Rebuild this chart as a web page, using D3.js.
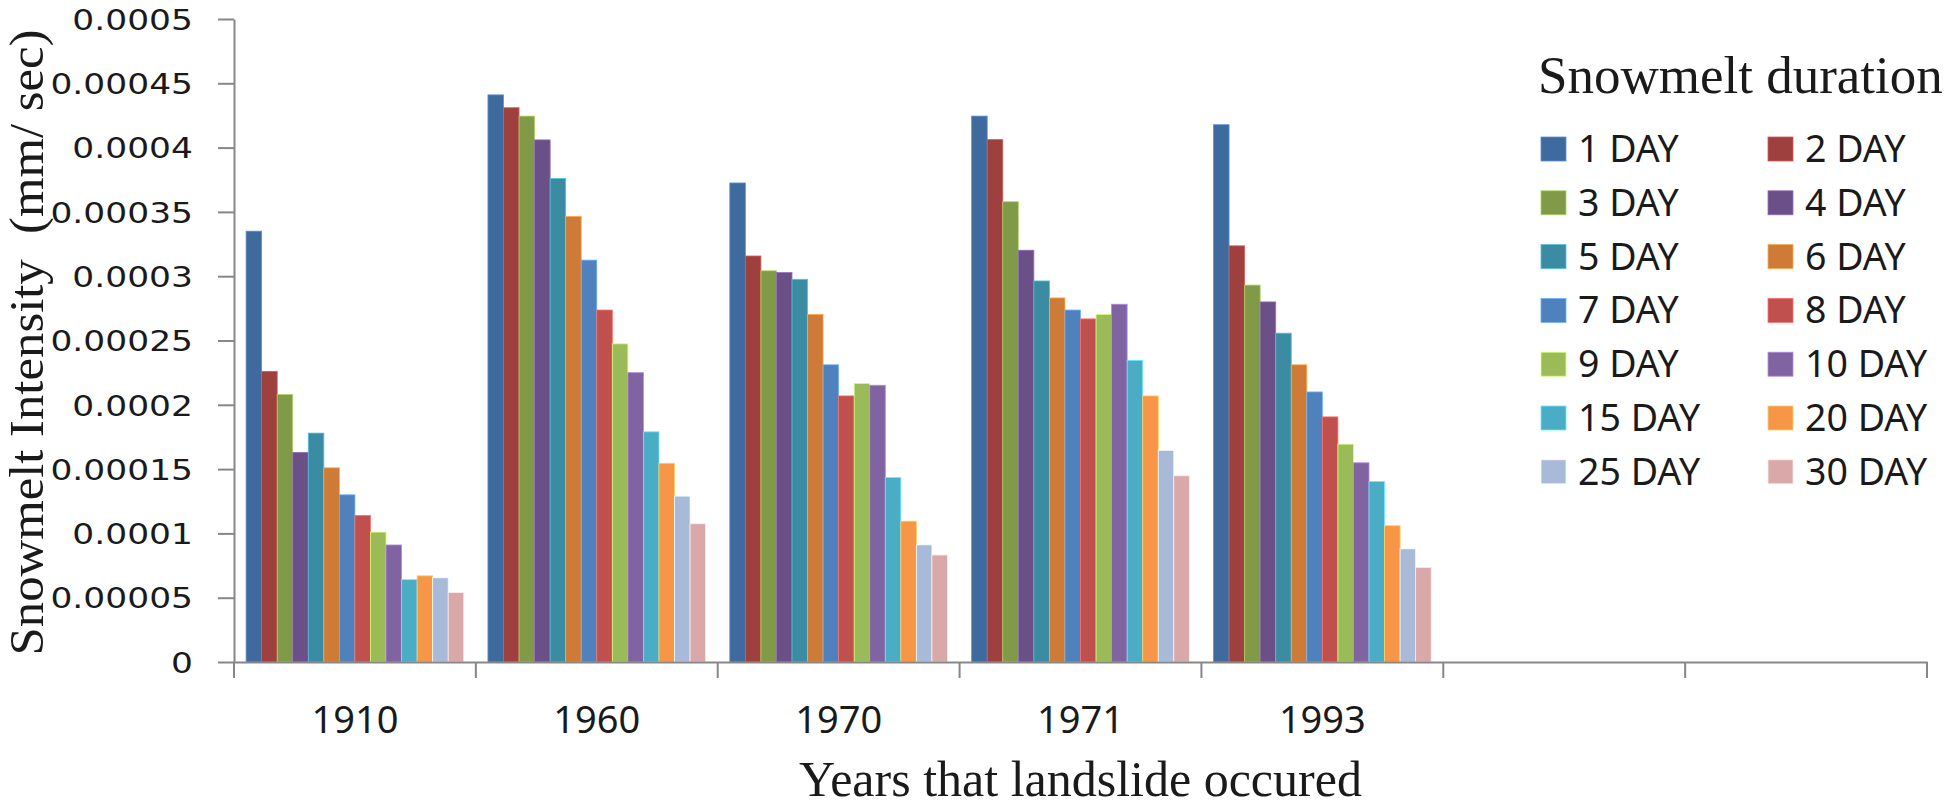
<!DOCTYPE html>
<html>
<head>
<meta charset="utf-8">
<script src="https://cdn.jsdelivr.net/npm/d3@7"></script>
<style>
  html, body { margin: 0; padding: 0; background: #fff; }
  svg { display: block; }
</style>
</head>
<body>
<svg id="chart" width="1946" height="808"></svg>
<script>
// ---------- data ----------
const categoryIds = ["1910", "1960", "1970", "1971", "1993", "empty1", "empty2"];
const categoryLabels = ["1910", "1960", "1970", "1971", "1993", "", ""];
const seriesNames = ["1 DAY", "2 DAY", "3 DAY", "4 DAY", "5 DAY", "6 DAY", "7 DAY",
                     "8 DAY", "9 DAY", "10 DAY", "15 DAY", "20 DAY", "25 DAY", "30 DAY"];
const seriesColors = ["#3F6A9D", "#9E403E", "#809A48", "#6A5086", "#3B8CA2", "#CD7B37", "#4F81BD",
                      "#C0504D", "#9BBB59", "#8064A2", "#4BACC6", "#F79646", "#A9BAD8", "#D9A9A9"];
const values1910 = [0.000335, 0.000226, 0.000208, 0.000163, 0.000178, 0.000151, 0.00013,
                    0.000114, 0.000101, 0.000091, 0.000064, 0.000067, 0.0000655, 0.000054];
const values1960 = [0.000441, 0.000431, 0.0004245, 0.000406, 0.000376, 0.0003465, 0.0003125,
                    0.0002737, 0.0002474, 0.000225, 0.000179, 0.0001545, 0.000129, 0.0001075];
const values1970 = [0.0003725, 0.0003157, 0.0003042, 0.0003028, 0.0002976, 0.0002703, 0.0002311,
                    0.0002069, 0.0002166, 0.0002152, 0.0001435, 0.0001095, 0.0000911, 0.0000832];
const values1971 = [0.0004245, 0.0004062, 0.0003579, 0.0003202, 0.0002963, 0.0002831, 0.0002737,
                    0.0002668, 0.0002703, 0.0002782, 0.0002346, 0.0002069, 0.0001646, 0.0001448];
const values1993 = [0.0004178, 0.0003236, 0.0002931, 0.00028, 0.0002557, 0.0002311, 0.00021,
                    0.0001906, 0.0001694, 0.0001549, 0.0001403, 0.000106, 0.000088, 0.0000735];
const yTickValues = [0, 0.00005, 0.0001, 0.00015, 0.0002, 0.00025, 0.0003, 0.00035, 0.0004, 0.00045, 0.0005];
const yTickLabels = ["0", "0.00005", "0.0001", "0.00015", "0.0002", "0.00025", "0.0003",
                     "0.00035", "0.0004", "0.00045", "0.0005"];
const yTitle = "Snowmelt Intensity  (mm/ sec)";
const xTitle = "Years that landslide occured";
const legendTitle = "Snowmelt duration";

const valuesByCategory = {
  "1910": values1910, "1960": values1960, "1970": values1970,
  "1971": values1971, "1993": values1993
};

// ---------- layout ----------
const svg = d3.select("#chart");
const plotLeft = 234, plotRight = 1927, plotTop = 19, plotBottom = 662;
const axisColor = "#878787";

const y = d3.scaleLinear().domain([0, 0.0005]).range([plotBottom, plotTop]);
const x0 = d3.scaleBand().domain(categoryIds).range([plotLeft, plotRight]).padding(0);
const step = x0.bandwidth();
const x1 = d3.scaleBand().domain(seriesNames)
  .range([step * 0.05, step * 0.95]).padding(0);

// ---------- bars ----------
const groups = svg.append("g").selectAll("g")
  .data(categoryIds.filter(c => valuesByCategory[c]))
  .join("g")
  .attr("transform", d => `translate(${x0(d)},0)`);

groups.selectAll("rect")
  .data(c => valuesByCategory[c].map((v, i) => ({ name: seriesNames[i], value: v, color: seriesColors[i] })))
  .join("rect")
  .attr("x", d => x1(d.name))
  .attr("width", x1.bandwidth())
  .attr("y", d => y(d.value))
  .attr("height", d => y(0) - y(d.value))
  .attr("fill", d => d.color)
  .attr("stroke", d => d3.color(d.color).brighter(0.9))
  .attr("stroke-width", 0.8);

// ---------- y axis ----------
const yAxis = d3.axisLeft(y)
  .tickValues(yTickValues)
  .tickFormat((d, i) => yTickLabels[i])
  .tickSize(16)
  .tickSizeOuter(0);

const gy = svg.append("g").attr("transform", `translate(${plotLeft},0)`).call(yAxis);
gy.select(".domain").attr("stroke", axisColor).attr("stroke-width", 2);
gy.selectAll(".tick line").attr("stroke", axisColor).attr("stroke-width", 2);
gy.selectAll(".tick text")
  .attr("x", 0)
  .attr("dy", "0.36em")
  .attr("transform", "translate(-41,0) scale(1.21,1)")
  .attr("text-anchor", "end")
  .attr("fill", "#1a1a1a")
  .style("font-family", "'DejaVu Sans', sans-serif")
  .style("font-size", "28.5px");

// ---------- x axis ----------
const xAxis = d3.axisBottom(x0)
  .tickFormat((d, i) => categoryLabels[i])
  .tickSize(0)
  .tickSizeOuter(0);
const gx = svg.append("g").attr("transform", `translate(0,${plotBottom})`).call(xAxis);
gx.select(".domain").attr("stroke", axisColor).attr("stroke-width", 2);
gx.selectAll(".tick text")
  .attr("y", 71)
  .attr("dy", 0)
  .attr("fill", "#1a1a1a")
  .style("font-family", "'Noto Sans', sans-serif")
  .style("font-size", "38px");

// boundary ticks between categories
const boundaries = categoryIds.map(c => x0(c)).concat([x0(categoryIds[categoryIds.length - 1]) + step]);
svg.append("g").selectAll("line")
  .data(boundaries)
  .join("line")
  .attr("x1", d => d).attr("x2", d => d)
  .attr("y1", plotBottom).attr("y2", plotBottom + 16)
  .attr("stroke", axisColor).attr("stroke-width", 2);

// ---------- titles ----------
const yTitleG = svg.append("g");
const yTitleText = yTitleG.append("text")
  .attr("text-anchor", "middle")
  .attr("x", 0).attr("y", 0)
  .style("white-space", "pre")
  .style("font-family", "'Liberation Serif', 'Times New Roman', serif")
  .style("font-size", "48px")
  .attr("fill", "#1a1a1a")
  .text(yTitle);
const yTitleNatural = yTitleText.node().getComputedTextLength();
const yTitleTarget = 626;
yTitleG.attr("transform",
  `translate(43,${(plotTop + plotBottom) / 2 + 2}) rotate(-90) scale(${yTitleTarget / yTitleNatural},1)`);

svg.append("text")
  .attr("x", (plotLeft + plotRight) / 2)
  .attr("y", 796)
  .attr("text-anchor", "middle")
  .style("font-family", "'Liberation Serif', 'Times New Roman', serif")
  .style("font-size", "50px")
  .attr("fill", "#1a1a1a")
  .text(xTitle);

// ---------- legend ----------
const legend = svg.append("g");
legend.append("text")
  .attr("x", 1538).attr("y", 93)
  .style("font-family", "'Liberation Serif', 'Times New Roman', serif")
  .style("font-size", "53px")
  .attr("fill", "#1a1a1a")
  .text(legendTitle);

const rowH = 53.8;
const colSwatchX = [1541, 1768];
const items = legend.selectAll("g.item")
  .data(seriesNames.map((n, i) => ({ name: n, color: seriesColors[i], row: Math.floor(i / 2), col: i % 2 })))
  .join("g")
  .attr("class", "item")
  .attr("transform", d => `translate(${colSwatchX[d.col]},${137 + d.row * rowH})`);
items.append("rect")
  .attr("width", 25).attr("height", 24)
  .attr("fill", d => d.color)
  .attr("stroke", d => d3.color(d.color).brighter(0.9))
  .attr("stroke-width", 0.8);
items.append("text")
  .attr("x", 37).attr("y", 25)
  .style("font-family", "'Noto Sans', sans-serif")
  .style("font-size", "37.5px")
  .attr("fill", "#1a1a1a")
  .text(d => d.name);
</script>
</body>
</html>
